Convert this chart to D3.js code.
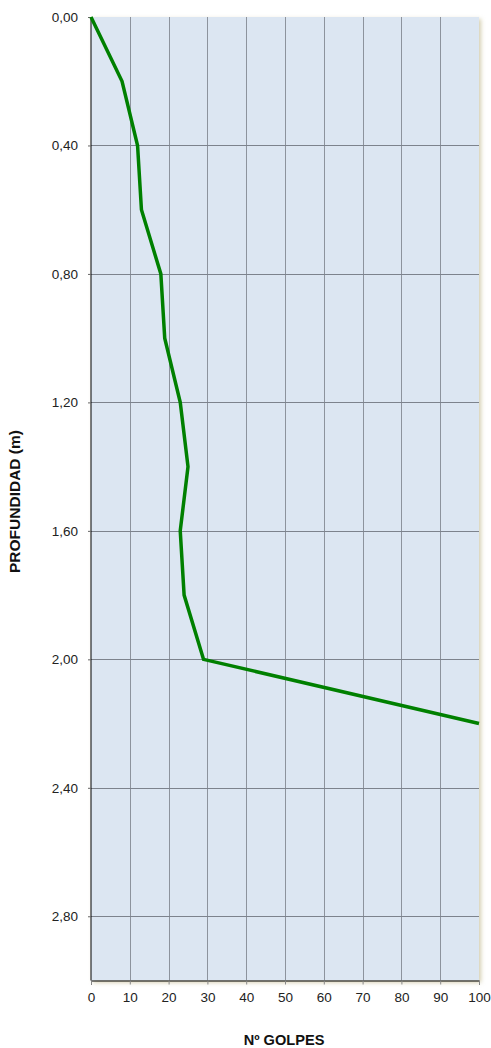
<!DOCTYPE html>
<html><head><meta charset="utf-8">
<script src="https://cdn.jsdelivr.net/npm/d3@7"></script>
<style>body{margin:0;background:#fff}svg{display:block}text{font-family:"Liberation Sans",Arial,sans-serif}</style>
</head><body><svg id="c" width="491" height="1048"></svg>
<script>
const depths = [0, 0.2, 0.4, 0.6, 0.8, 1.0, 1.2, 1.4, 1.6, 1.8, 2.0, 2.2];
const blows  = [0, 8, 12, 13, 18, 19, 23, 25, 23, 24, 29, 100];
const xTicks = [0,10,20,30,40,50,60,70,80,90,100];
const yTicks = [0,0.4,0.8,1.2,1.6,2.0,2.4,2.8];
const xTitle = "Nº GOLPES";
const yTitle = "PROFUNDIDAD (m)";

const svg = d3.select("#c");
const L=91, R=479, T=17, B=980.5;
const x = d3.scaleLinear().domain([0,100]).range([L,R]);
const y = d3.scaleLinear().domain([0,3.0]).range([T,B]);

const defs = svg.append("defs");
const f = defs.append("filter").attr("id","sh").attr("x","-5%").attr("y","-5%").attr("width","115%").attr("height","115%");
f.append("feOffset").attr("in","SourceAlpha").attr("dx",2).attr("dy",2).attr("result","o");
f.append("feGaussianBlur").attr("in","o").attr("stdDeviation",2).attr("result","b");
f.append("feFlood").attr("flood-color","#b8ad7a").attr("flood-opacity",0.6);
f.append("feComposite").attr("in2","b").attr("operator","in");

svg.append("rect").attr("x",L).attr("y",T).attr("width",R-L).attr("height",B-T).attr("fill","#d8cfa6").attr("filter","url(#sh)");
svg.append("rect").attr("x",L).attr("y",T).attr("width",R-L).attr("height",B-T).attr("fill","#dce6f2");

const g = svg.append("g");
g.selectAll(".vx").data(xTicks.slice(1,-1)).join("line")
 .attr("x1",d=>Math.round(x(d))+0.5).attr("x2",d=>Math.round(x(d))+0.5).attr("y1",T).attr("y2",B)
 .attr("stroke","#8d939d").attr("stroke-width",1);
g.selectAll(".hy").data(yTicks.slice(1)).join("line")
 .attr("y1",d=>Math.round(y(d))+0.5).attr("y2",d=>Math.round(y(d))+0.5).attr("x1",L).attr("x2",R)
 .attr("stroke","#7d838d").attr("stroke-width",1);

const xa = svg.append("g").attr("transform",`translate(0,${B})`)
 .call(d3.axisBottom(x).tickValues(xTicks).tickSize(4).tickPadding(8).tickFormat(d3.format("d")));
xa.select(".domain").attr("stroke","#000");
xa.selectAll(".tick line").attr("stroke","#888");
xa.selectAll("text").attr("font-size",13.5).attr("fill","#222");

const ya = svg.append("g").attr("transform",`translate(${L},0)`)
 .call(d3.axisLeft(y).tickValues(yTicks).tickSize(3).tickPadding(10).tickFormat(d=>d3.format(".2f")(d).replace(".",",")));
ya.select(".domain").attr("d",`M0,${T}V${B}`).attr("stroke","#000");
ya.selectAll(".tick line").attr("stroke","#666");
ya.selectAll("text").attr("font-size",13.5).attr("fill","#222");

const pts = depths.map((d,i)=>[blows[i],d]);
svg.append("path").datum(pts)
 .attr("d", d3.line().x(d=>x(d[0])).y(d=>y(d[1])))
 .attr("fill","none").attr("stroke","#008000").attr("stroke-width",3.5).attr("stroke-linejoin","miter");

svg.append("text").attr("x",284).attr("y",1045).attr("text-anchor","middle")
 .attr("font-size",14.6).attr("font-weight","bold").attr("fill","#111").text(xTitle);
svg.append("text").attr("transform",`translate(19.5,501.5) rotate(-90)`).attr("text-anchor","middle")
 .attr("font-size",15.5).attr("font-weight","bold").attr("fill","#111").text(yTitle);
</script></body></html>
